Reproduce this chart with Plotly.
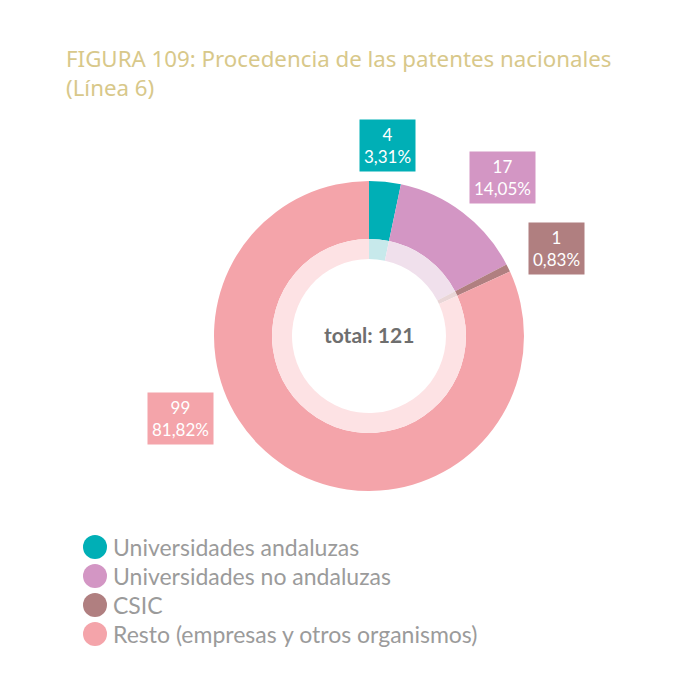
import plotly.graph_objects as go

# ---- data ----
categories = ["Universidades andaluzas", "Universidades no andaluzas", "CSIC",
              "Resto (empresas y otros organismos)"]
values = [4, 17, 1, 99]
percent_labels = ["3,31%", "14,05%", "0,83%", "81,82%"]
total = 121
title_text = "FIGURA 109: Procedencia de las patentes nacionales<br>(Línea 6)"

# ---- styles ----
colors = ["#00AFB6", "#D396C4", "#B07F80", "#F4A4AA"]
light_colors = ["#C7E9EB", "#F0E0EC", "#E9D6D7", "#FDE2E4"]
W = H = 700
OFF = 8                     # page body margin compensation
cx, cy = 369 - OFF, 336 - OFF   # donut centre (px)
r_out, r_mid, r_in = 155, 97, 77

def dom(r):
    return dict(x=[(cx - r) / W, (cx + r) / W], y=[(H - cy - r) / H, (H - cy + r) / H])

def px(x, y):
    return dict(x=(x - OFF) / W, y=1 - (y - OFF) / H, xref="paper", yref="paper")

fig = go.Figure()
fig.add_trace(go.Pie(values=values, labels=categories, marker=dict(colors=colors, line=dict(width=0)),
                     hole=r_mid / r_out, sort=False, direction="clockwise", rotation=0,
                     textinfo="none", domain=dom(r_out), showlegend=False))
fig.add_trace(go.Pie(values=values, labels=categories, marker=dict(colors=light_colors, line=dict(width=0)),
                     hole=r_in / r_mid, sort=False, direction="clockwise", rotation=0,
                     textinfo="none", domain=dom(r_mid), showlegend=False))

# value labels (boxes)
label_pos = [(388, 145), (502, 177), (556, 248), (180, 418)]
annotations = []
for v, p, c, (lx, ly) in zip(values, percent_labels, colors, label_pos):
    annotations.append(dict(**px(lx, ly),
                            text=f"{v}<br>{p}", showarrow=False, align="center",
                            xanchor="center", yanchor="middle", bgcolor=c, borderpad=4,
                            font=dict(family="Lato", size=17, color="white")))

# centre total
annotations.append(dict(**px(369, 335),
                        text=f"<b>total: {total}</b>", showarrow=False,
                        font=dict(family="Lato", size=21, color="#6E6E6E")))

# title
annotations.append(dict(**px(64, 41), text=title_text,
                        showarrow=False, xanchor="left", yanchor="top", align="left",
                        font=dict(family="Noto Sans", size=22.3, color="#D8C88A")))

# legend
shapes = []
for i, (cat, c) in enumerate(zip(categories, colors)):
    ly = 547 + i * 29
    shapes.append(dict(type="circle", xref="paper", yref="paper",
                       x0=(95 - 12 - OFF) / W, x1=(95 + 12 - OFF) / W,
                       y0=1 - (ly + 12 - OFF) / H, y1=1 - (ly - 12 - OFF) / H,
                       fillcolor=c, line=dict(width=0)))
    annotations.append(dict(**px(111, ly), text=cat,
                            showarrow=False, xanchor="left", yanchor="middle",
                            font=dict(family="Lato", size=23, color="#9B9B9B")))

fig.update_layout(width=W, height=H, margin=dict(l=0, r=0, t=0, b=0),
                  paper_bgcolor="white", plot_bgcolor="white",
                  annotations=annotations, shapes=shapes, showlegend=False)
fig.write_html("out.html")
